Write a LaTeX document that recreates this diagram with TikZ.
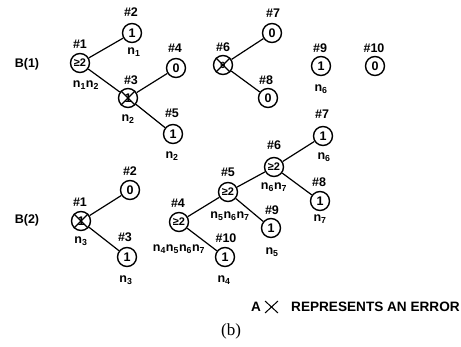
\documentclass[tikz,border=0pt]{standalone}
\usepackage{fontspec}
\setmainfont{Liberation Sans}
\newfontfamily\captionserif{Liberation Serif}
\begin{document}
\begin{tikzpicture}[x=1pt,y=-1pt,
  gate/.style={circle,draw,line width=1.4pt,minimum size=19pt,inner sep=0pt,
    font=\fontsize{12.5}{12.5}\selectfont\bfseries},
  thr/.style={gate,font=\fontsize{11}{11}\selectfont\bfseries},
  txt/.style={inner sep=0pt,font=\fontsize{12.5}{13}\selectfont\bfseries},
  legendtxt/.style={inner sep=0pt,anchor=west,font=\fontsize{13.6}{14}\selectfont\bfseries},
  wire/.style={line width=1.2pt},
  xmark/.style={line width=1.1pt}]
\useasboundingbox (0,0) rectangle (461,347);

% ---------------- B(1) ----------------
\node[txt] (lb1) at (27,64) {B(1)};
\node[thr]  (a1) at (80,63) {≥2};
\node[txt]  (a1h) at (80,44) {\#1};
\node[txt]  (a1n) at (86,85) {n\textsubscript{1}n\textsubscript{2}};
\node[gate] (a2) at (132,33) {1};
\node[txt]  (a2h) at (131,12) {\#2};
\node[txt]  (a2n) at (134,52) {n\textsubscript{1}};
\node[gate] (a3) at (128,98) {1};
\node[txt]  (a3h) at (131,80) {\#3};
\node[txt]  (a3n) at (128,119) {n\textsubscript{2}};
\node[gate] (a4) at (176,68) {0};
\node[txt]  (a4h) at (175,48) {\#4};
\node[gate] (a5) at (173,134) {1};
\node[txt]  (a5h) at (172,113) {\#5};
\node[txt]  (a5n) at (172,156) {n\textsubscript{2}};
\node[gate,font=\fontsize{9}{9}\selectfont\bfseries] (a6) at (223,65) {0};
\node[txt]  (a6h) at (223,47) {\#6};
\node[gate] (a7) at (272,33) {0};
\node[txt]  (a7h) at (273,13) {\#7};
\node[gate] (a8) at (268,98) {0};
\node[txt]  (a8h) at (266,80) {\#8};
\node[gate] (a9) at (321,66) {1};
\node[txt]  (a9h) at (320,48) {\#9};
\node[txt]  (a9n) at (321,89) {n\textsubscript{6}};
\node[gate] (a10) at (375,66) {0};
\node[txt]  (a10h) at (374,48) {\#10};

\draw[wire] (a1) -- (a2) (a1) -- (a3) (a3) -- (a4) (a3) -- (a5)
            (a6) -- (a7) (a6) -- (a8);
\draw[xmark] (a3.north west) -- (a3.south east) (a3.north east) -- (a3.south west)
             (a6.north west) -- (a6.south east) (a6.north east) -- (a6.south west);

% ---------------- B(2) ----------------
\node[txt] (lb2) at (27,220) {B(2)};
\node[gate] (c1) at (81,221) {1};
\node[txt]  (c1h) at (80,202) {\#1};
\node[txt]  (c1n) at (81,241) {n\textsubscript{3}};
\node[gate] (c2) at (130,190) {0};
\node[txt]  (c2h) at (130,171) {\#2};
\node[gate] (c3) at (127,257) {1};
\node[txt]  (c3h) at (125,237) {\#3};
\node[txt]  (c3n) at (126,280) {n\textsubscript{3}};
\node[thr]  (c4) at (179,222) {≥2};
\node[txt]  (c4h) at (178,203) {\#4};
\node[txt]  (c4n) at (179,249) {n\textsubscript{4}n\textsubscript{5}n\textsubscript{6}n\textsubscript{7}};
\node[thr]  (c5) at (228,192) {≥2};
\node[txt]  (c5h) at (228,172) {\#5};
\node[txt]  (c5n) at (230,216) {n\textsubscript{5}n\textsubscript{6}n\textsubscript{7}};
\node[thr]  (c6) at (274,167) {≥2};
\node[txt]  (c6h) at (274,145) {\#6};
\node[txt]  (c6n) at (274,187) {n\textsubscript{6}n\textsubscript{7}};
\node[gate] (c7) at (323,136) {1};
\node[txt]  (c7h) at (322,114) {\#7};
\node[txt]  (c7n) at (324,157) {n\textsubscript{6}};
\node[gate] (c8) at (320,201) {1};
\node[txt]  (c8h) at (319,182) {\#8};
\node[txt]  (c8n) at (320,219) {n\textsubscript{7}};
\node[gate] (c9) at (271,228) {1};
\node[txt]  (c9h) at (272,210) {\#9};
\node[txt]  (c9n) at (272,252) {n\textsubscript{5}};
\node[gate] (c10) at (225,257) {1};
\node[txt]  (c10h) at (226,238) {\#10};
\node[txt]  (c10n) at (224,280) {n\textsubscript{4}};

\draw[wire] (c1) -- (c2) (c1) -- (c3)
            (c4) -- (c5) (c4) -- (c10) (c5) -- (c6) (c5) -- (c9)
            (c6) -- (c7) (c6) -- (c8);
\draw[xmark] (c1.north west) -- (c1.south east) (c1.north east) -- (c1.south west);

% ---------------- legend ----------------
\node[legendtxt] (legA) at (251,307) {A};
\coordinate (xm) at (271.5,307);
\draw[line width=1pt] ([shift={(-6.5,-6)}]xm) -- ([shift={(6.5,6)}]xm)
                      ([shift={(6.5,-6)}]xm) -- ([shift={(-6.5,6)}]xm);
\node[legendtxt] (leg) at (291,307) {REPRESENTS AN ERROR};

\node[inner sep=0pt,font=\captionserif\fontsize{17}{17}\selectfont] (cap) at (231,331) {(b)};
\end{tikzpicture}
\end{document}
